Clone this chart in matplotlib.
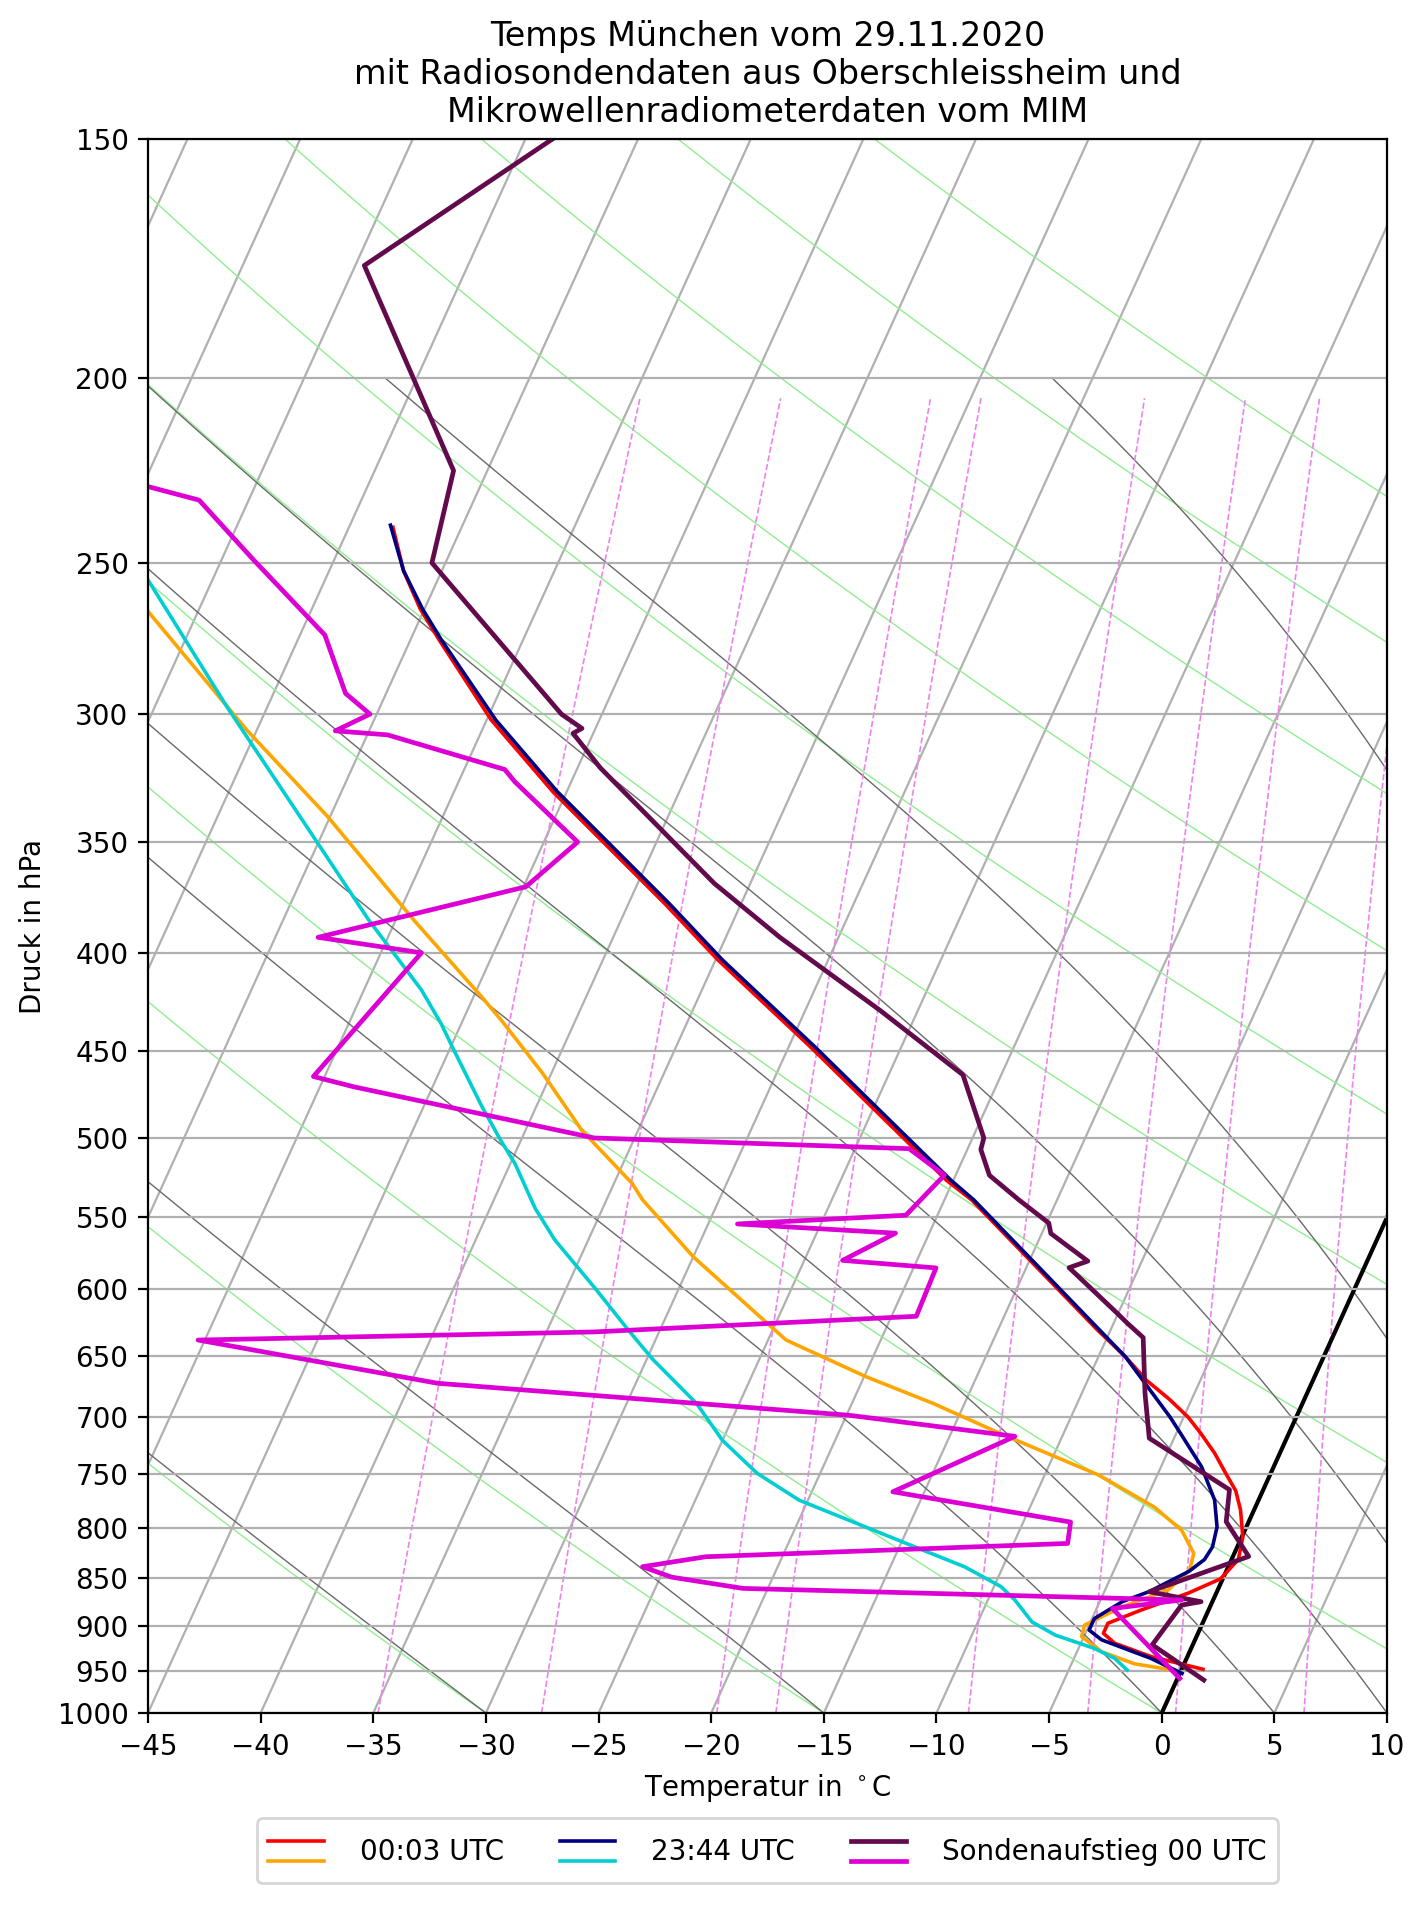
import numpy as np
import matplotlib

matplotlib.use("Agg")

import matplotlib.pyplot as plt
from matplotlib.legend_handler import HandlerBase
from matplotlib.lines import Line2D
from matplotlib.ticker import NullLocator
from matplotlib.transforms import Affine2D

# Sondenaufstieg 00 UTC (Oberschleissheim)
sonde_p = [150, 174.7, 223.7, 250, 300, 305.2, 307, 320, 367.9, 392.6, 428.6, 463.4,
           500, 507, 523, 538.7, 554, 561, 580, 584.6, 617, 625, 636, 680, 718, 764,
           794, 828, 864, 874.4, 878, 921, 961]
sonde_t = [-58.8, -64.6, -56.5, -55.6, -46.8, -45.6, -45.9, -44.0, -36.6, -32.6, -26.7, -21.7,
           -19.5, -19.4, -18.5, -16.7, -14.9, -14.6, -12.4, -13.1, -10.1, -9.4, -8.4, -7.2, -6.1, -1.5,
           -1.0, 0.7, -3.0, -0.5, -1.3, -1.8, 1.2]
sonde_td_p = [228.1, 231.8, 249, 272.7, 292.6, 300, 306.1, 307.6, 320.7, 325.5, 350, 369.4,
              392.6, 400, 464.3, 470.1, 500, 506.5, 522.9, 548.8, 554.6, 560.8, 579.5, 584.8,
              619.9, 631.7, 637.9, 672.0, 698.4, 716.4, 765.9, 794.4, 815.1, 828.3, 838.3,
              848.9, 860.5, 872.6, 881.6, 959.1]
sonde_td = [-69.7, -67.2, -63.6, -58.9, -56.8, -55.3, -56.5, -54.1, -48.2, -47.5, -43.5, -44.9,
            -53.1, -48.2, -50.5, -48.5, -36.8, -22.6, -20.5, -21.4, -28.7, -21.5, -23.3, -19.0,
            -18.9, -32.9, -50.3, -38.8, -19.9, -12.1, -16.4, -7.9, -7.6, -23.4, -26.0,
            -24.5, -21.1, -1.4, -4.3, 0.1]

# Mikrowellenradiometer 00:03 UTC
mwr0003_p = [239.5, 252.4, 264.2, 274.5, 302.1, 329.5, 376.9, 403.4, 448.3, 526.2, 538.7,
             630, 650.9, 669.5, 685, 700, 714, 731, 749, 765, 782.9, 808.9, 831.1, 850.6,
             865.5, 883.3, 897.4, 908.3, 919.3, 934.3, 948.6]
mwr0003_t = [-58.05, -56.7, -55.2, -53.7, -49.8, -45.6, -38.4, -34.9, -29.0, -20.3, -18.8,
             -10.6, -8.8, -7.4, -6.0, -4.8, -3.9, -2.9, -2.0, -1.2, -0.6, 0.05, 0.3, -0.1,
             -1.25, -3.0, -4.2, -4.2, -3.5, -1.6, 0.95]
mwr0003_td_p = [265.2, 306.1, 339.5, 384.5, 421.7, 433.8, 462.4, 495.4, 528.1, 538.7, 577.0,
                622.7, 637.9, 666.8, 688.5, 714.0, 750.6, 780.0, 802.3, 825.0, 841.6, 862.0,
                879.8, 899.4, 912.0, 928.8, 942.4, 948.6]
mwr0003_td = [-67.2, -60.4, -55.1, -49.2, -44.65, -43.3, -40.4, -37.5, -34.2, -33.4, -30.0,
              -25.6, -24.2, -19.9, -16.4, -12.8, -7.6, -4.5, -2.8, -1.8, -1.65, -2.2,
              -3.9, -5.2, -5.1, -3.9, -2.2, -0.6]

# Mikrowellenradiometer 23:44 UTC
mwr2344_p = [238.9, 252.4, 264.2, 274.5, 302.1, 329.5, 376.9, 403.4, 448.3, 526.2, 538.7,
             650.9, 700, 714, 743.2, 773.6, 799.1, 818.6, 831, 843, 863.7, 874.4, 892.4,
             904.8, 915.5, 936.1, 953.3]
mwr2344_t = [-58.2, -56.7, -55.1, -53.6, -49.6, -45.4, -38.2, -34.7, -28.8, -20.1, -18.7,
             -8.8, -5.6, -4.8, -3.2, -1.95, -1.3, -1.1, -1.2, -1.65, -3.0, -4.0, -4.9,
             -4.9, -4.15, -1.6, 0.1]
mwr2344_td_p = [255.2, 297.7, 350.6, 384.5, 418.3, 435.6, 449.7, 481.6, 501.4, 515.6, 544.2,
                565.2, 599.6, 631.7, 653.3, 688.5, 719.9, 749.0, 773.6, 799.1, 818.6, 838.4,
                858.5, 872.6, 896.0, 910.3, 925.0, 936.1, 949.5]
mwr2344_td = [-67.86, -61.75, -55.0, -51.2, -47.45, -45.9, -44.8, -42.4, -40.9, -39.8, -38.0,
              -36.5, -33.7, -31.3, -29.7, -26.9, -25.0, -22.8, -20.4, -16.9, -14.3, -11.7,
              -9.7, -8.8, -7.6, -6.3, -4.3, -3.2, -2.4]

# Hilfslinien
isothermen = np.arange(-80, 11, 5)
trockenadiabaten_t0 = np.arange(-45, 121, 15)
feuchtadiabaten_t0 = [-30, -15, 0, 5, 10, 15, 20, 30]
mischungsverhaeltnisse = [0.2, 0.4, 0.8, 1, 2, 3, 4, 6, 8]  # g/kg
druck_ticks = np.arange(150, 1001, 50)
temp_ticks = np.arange(-45, 11, 5)

RD, CP, LV, EPS = 287.047, 1004.67, 2.50084e6, 0.622


def saettigungs_mischung(t_k, p):
    es = 6.112 * np.exp(17.67 * (t_k - 273.15) / (t_k - 29.65))
    return EPS * es / (p - es)


def feuchtadiabate(t0, p):
    def dtdp(t_k, pp):
        rs = saettigungs_mischung(t_k, pp)
        return (RD * t_k + LV * rs) / (CP + LV * LV * rs * EPS / (RD * t_k * t_k)) / pp

    t = np.empty_like(p)
    t[0] = t0 + 273.15
    for i in range(1, len(p)):
        h = p[i] - p[i - 1]
        k1 = dtdp(t[i - 1], p[i - 1])
        k2 = dtdp(t[i - 1] + 0.5 * h * k1, p[i - 1] + 0.5 * h)
        k3 = dtdp(t[i - 1] + 0.5 * h * k2, p[i - 1] + 0.5 * h)
        k4 = dtdp(t[i - 1] + h * k3, p[i])
        t[i] = t[i - 1] + h * (k1 + 2 * k2 + 2 * k3 + k4) / 6
    return t - 273.15


class GestapelterHandler(HandlerBase):
    def create_artists(self, legend, orig_handle, xdescent, ydescent, width, height, fontsize, trans):
        linien = []
        for frac, h in zip((0.74, 0.26), orig_handle):
            y = -ydescent + frac * height
            linien.append(Line2D([-xdescent, -xdescent + width], [y, y], color=h.get_color(),
                                 lw=h.get_linewidth(), transform=trans))
        return linien


fig = plt.figure(figsize=(7.135, 9.535), dpi=200)
ax = fig.add_axes([0.1037, 0.1017, 0.8683, 0.8254])
ax.set_yscale("log")
ax.set_xlim(-45, 10)
ax.set_ylim(1000, 150)
ax.set_autoscale_on(False)

skew = ax.transScale + ax.transLimits + Affine2D().skew_deg(30, 0) + ax.transAxes

p_voll = np.geomspace(1000, 150, 120)
for t in isothermen:
    ax.plot([t, t], [1000, 150], transform=skew, color="#b0b0b0", lw=0.8, zorder=1)
ax.yaxis.grid(True, color="#b0b0b0", lw=0.8)

for t0 in trockenadiabaten_t0:
    t = (t0 + 273.15) * (p_voll / 1000.0) ** 0.2857 - 273.15
    ax.plot(t, p_voll, transform=skew, color="lightgreen", lw=0.5, zorder=1.1)

p_feucht = np.linspace(1000, 200, 200)
for t0 in feuchtadiabaten_t0:
    ax.plot(feuchtadiabate(t0, p_feucht), p_feucht, transform=skew, color="dimgray", lw=0.5, zorder=1.1)

p_misch = np.linspace(1000, 205, 60)
for w in mischungsverhaeltnisse:
    e = w / 1000.0 * p_misch / (EPS + w / 1000.0)
    ln = np.log(e / 6.112)
    td = 243.5 * ln / (17.67 - ln)
    ax.plot(td, p_misch, transform=skew, color="violet", lw=0.6, ls="--", zorder=1.1)

ax.plot([0, 0], [1000, 150], transform=skew, color="black", lw=1.5, zorder=1.5)

l_rot, = ax.plot(mwr0003_t, mwr0003_p, transform=skew, color="red", lw=1.3, zorder=2)
l_orange, = ax.plot(mwr0003_td, mwr0003_td_p, transform=skew, color="orange", lw=1.3, zorder=2)
l_navy, = ax.plot(mwr2344_t, mwr2344_p, transform=skew, color="navy", lw=1.3, zorder=2)
l_cyan, = ax.plot(mwr2344_td, mwr2344_td_p, transform=skew, color="darkturquoise", lw=1.3, zorder=2)
l_lila, = ax.plot(sonde_t, sonde_p, transform=skew, color="#620a4b", lw=1.7, zorder=2)
l_mag, = ax.plot(sonde_td, sonde_td_p, transform=skew, color="#dd00d5", lw=1.7, zorder=2)

ax.set_xticks(temp_ticks)
ax.set_yticks(druck_ticks)
ax.set_yticklabels([str(p) for p in druck_ticks])
ax.yaxis.set_minor_locator(NullLocator())
ax.set_xlabel(r"Temperatur in $^\circ$C")
ax.set_ylabel("Druck in hPa")
ax.set_title("Temps München vom 29.11.2020\nmit Radiosondendaten aus Oberschleissheim und\n"
             "Mikrowellenradiometerdaten vom MIM", fontsize=12)

ax.legend([(l_rot, l_orange), (l_navy, l_cyan), (l_lila, l_mag)],
          ["00:03 UTC", "23:44 UTC", "Sondenaufstieg 00 UTC"],
          handler_map={tuple: GestapelterHandler()}, ncol=3, loc="upper center",
          bbox_to_anchor=(0.5, -0.058), handleheight=2.0, handletextpad=1.3)

fig.savefig("out.png", dpi=200)
